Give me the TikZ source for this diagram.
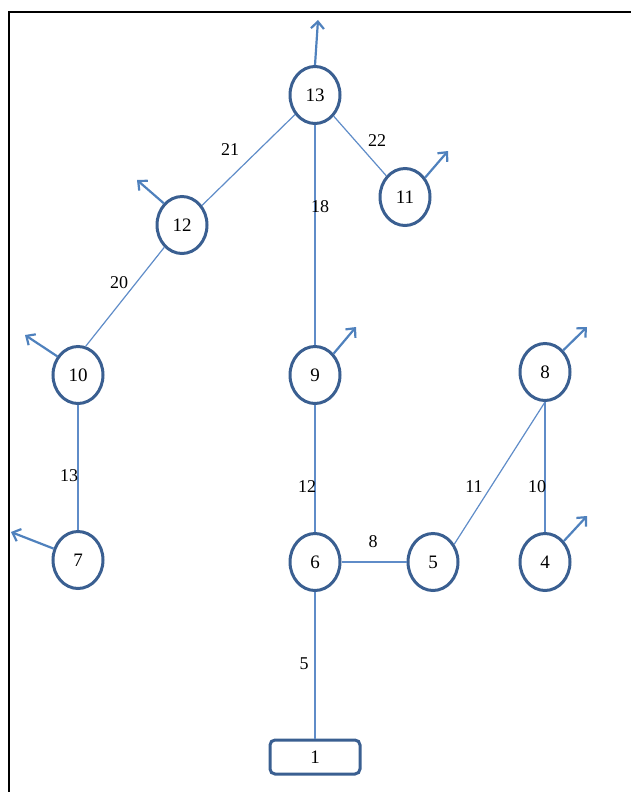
\documentclass[tikz,border=0pt]{standalone}
\usepackage{fontspec}
\setmainfont{Liberation Serif}
\usetikzlibrary{shapes.geometric,arrows.meta}
\definecolor{ringblue}{RGB}{58,95,145}
\definecolor{linkblue}{RGB}{95,140,200}
\definecolor{outblue}{RGB}{79,129,189}
\tikzset{
  vert/.style={ellipse, draw=ringblue, line width=3pt, minimum width=50pt,
    minimum height=57pt, inner sep=0pt, font=\fontsize{19}{19}\selectfont},
  rootbox/.style={rectangle, rounded corners=5pt, draw=ringblue, line width=3pt,
    minimum width=90pt, minimum height=34pt, inner sep=0pt, font=\fontsize{19}{19}\selectfont},
  link/.style={draw=linkblue, line width=1.2pt},
  outarrow/.style={draw=outblue, line width=2.2pt, -{Straight Barb[length=7pt,width=13pt]}},
  wt/.style={inner sep=0pt, font=\fontsize{18}{18}\selectfont},
}
\begin{document}
\begin{tikzpicture}[x=1pt,y=-1pt]
\useasboundingbox (0,0) rectangle (631,792);
% frame
\draw[line width=2pt] (9,792) -- (9,12) -- (631,12);

% vertices
\node[vert] (n13) at (315,95) {13};
\node[vert] (n11) at (405,197) {11};
\node[vert] (n12) at (182,225) {12};
\node[vert] (n10) at (78,375) {10};
\node[vert] (n9) at (315,375) {9};
\node[vert] (n8) at (545,372) {8};
\node[vert] (n7) at (78,560) {7};
\node[vert] (n6) at (315,562) {6};
\node[vert] (n5) at (433,562) {5};
\node[vert] (n4) at (545,562) {4};
\node[rootbox] (n1) at (315,757) {1};

% tree edges
\draw[link] (n13) -- (n12);
\draw[link] (n13) -- (n11);
\draw[link] (n13) -- (n9);
\draw[link] (n12) -- (n10.75);
\draw[link] (n10) -- (n7);
\draw[link] (n9) -- (n6);
\draw[link] (n6) -- (n5);
\draw[link] (n5.40) -- (n8.south);
\draw[link] (n8) -- (n4);
\draw[link] (n6) -- (n1);

% edge weights
\node[wt] (w21) at (230,150) {21};
\node[wt] (w22) at (377,141) {22};
\node[wt] (w18) at (320,207) {18};
\node[wt] (w20) at (119,283) {20};
\node[wt] (w13) at (69,476) {13};
\node[wt] (w12) at (307,487) {12};
\node[wt] (w11) at (474,487) {11};
\node[wt] (w10) at (537,487) {10};
\node[wt] (w8) at (373,542) {8};
\node[wt] (w5) at (304,664) {5};

% outgoing arrows
\coordinate (e13) at (318,20);
\coordinate (e12) at (137,180);
\coordinate (e10) at (25,335);
\coordinate (e7) at (11,532);
\coordinate (e8) at (587,327);
\coordinate (e4) at (587,516);
\coordinate (e9) at (356,327);
\coordinate (e11) at (448,151);
\draw[outarrow] (n13.north) -- (e13);
\draw[outarrow] (n12.130) -- (e12);
\draw[outarrow] (n10.138) -- (e10);
\draw[outarrow] (n7.155) -- (e7);
\draw[outarrow] (n8.50) -- (e8);
\draw[outarrow] (n4.48) -- (e4);
\draw[outarrow] (n9.49) -- (e9);
\draw[outarrow] (n11.44) -- (e11);
\end{tikzpicture}
\end{document}
